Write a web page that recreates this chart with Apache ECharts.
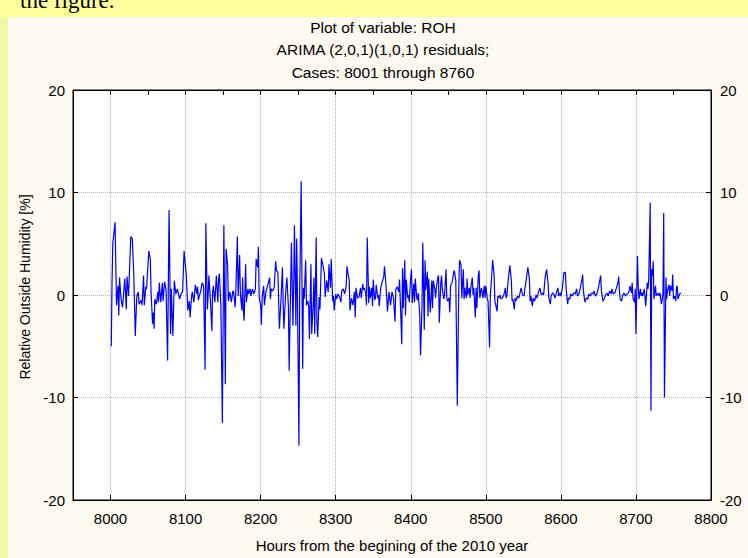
<!DOCTYPE html>
<html>
<head>
<meta charset="utf-8">
<script src="https://cdn.jsdelivr.net/npm/echarts@6/dist/echarts.min.js"></script>
<style>html,body{margin:0;padding:0;background:#FFFF9C;}#chart{width:748px;height:558px;}</style>
</head>
<body>
<div id="chart"></div>
<script>
const titleLines = ['Plot of variable: ROH', 'ARIMA (2,0,1)(1,0,1) residuals;', 'Cases: 8001 through 8760'];
const xAxisName = 'Hours from the begining of the 2010 year';
const yAxisName = 'Relative Outside Humidity [%]';
const xTickValues = [8000, 8100, 8200, 8300, 8400, 8500, 8600, 8700, 8800];

const hours = [
8001,8002,8003,8006,8008,8010,8011,8012,8014,8016,8019,8021,8022,8024,8027,8029,8031,8033,8035,8037,
8038,8041,8042,8044,8045,8047,8048,8051,8053,8054,8056,8057,8058,8059,8061,8063,8064,8065,8067,8069,
8070,8072,8074,8076,8078,8080,8081,8083,8085,8087,8089,8092,8094,8096,
8098,8101,8103,8105,8106,8108,8109,8111,8113,8115,8116,8117,8119,8120,8122,8124,8126,8127,8129,8130,
8131,8133,8135,8136,8137,8139,8140,8141,8143,8144,8145,8147,8149,8151,8153,8154,8156,8157,8159,8161,
8163,8164,8166,8167,8169,8170,8172,8173,8175,8176,8177,8178,8180,8181,8183,8184,8186,8187,8189,8191,
8193,8194,8196,8197,8198,8200,8201,8202,8204,8205,8207,
8210,8212,8213,8214,8216,8218,8220,8221,8223,8225,8227,8229,8230,8231,8233,8234,8235,8237,8238,8240,
8241,8243,8244,8245,8247,8248,8249,8251,8252,8254,8256,8257,8258,8260,8261,8263,8264,8265,8267,8268,
8270,8271,8272,8274,8275,8276,8278,8279,8281,8283,8285,8286,8288,8290,8291,8293,8294,8296,8297,8298,
8300,8301,8303,8305,8307,8308,8310,8312,8314,
8315,8317,8318,8319,8321,8323,8325,8326,8327,8329,8331,8333,8334,8336,8337,8338,8340,8341,8342,8344,
8345,8346,8348,8349,8350,8352,8353,8354,8356,8357,8358,8360,8362,8364,8365,8367,8369,8371,8372,8373,
8375,8377,8379,8380,8382,8384,8385,8386,8388,8389,8390,8392,8393,8394,8396,8397,8398,8400,8401,8402,
8404,8405,8406,8408,8409,8410,8412,8413,8415,8416,8418,8419,8420,8422,8423,
8424,8425,8426,8428,8429,8430,8432,8433,8434,8436,8437,8438,8440,8441,8442,8444,8445,8447,8448,8449,
8451,8452,8453,8455,8456,8458,8460,8462,8464,8465,8467,8468,8470,8471,8472,8474,8475,8476,8478,8479,
8480,8482,8483,8484,8486,8487,8488,8490,8491,8492,8494,8495,8496,8498,8499,8500,8502,8503,8505,8506,
8508,8509,8511,8512,8513,8515,8516,8517,8519,8520,8522,8524,8526,8527,8528,8530,8531,8532,8534,8535,
8536,8538,8539,8540,8542,8544,8545,8547,8549,8551,8552,8554,8556,8558,8559,8560,8562,8563,8565,8567,
8568,8570,8572,8574,8576,8577,8579,8581,8583,8584,8586,8587,8589,8591,8592,8594,8596,
8597,8599,8600,8602,8604,8606,8607,8609,8610,8612,8613,8615,8617,8619,8621,8622,8624,8626,8628,8629,
8630,8632,8634,8636,8637,8639,8641,8643,8644,8646,8648,8650,8652,8653,8654,8656,8658,8659,8661,8663,
8665,8667,8668,8670,8672,8674,8676,8677,8678,8679,8681,8682,8684,8686,8688,8689,8691,8692,8694,8695,
8696,8698,8699,8700,8702,8703,8704,8706,8707,8708,8709,8711,8712,8713,8715,8716,8717,8719,8720,8721,
8722,8723,8724,8726,8727,8729,8731,8732,8734,8736,8737,8738,8740,8741,8742,8744,8745,8746,8748,8749,
8750,8752,8753,8754,8755,8756,8758,8760
];

const residuals = [
-5.0,1.2,5.0,7.1,-1.0,0.9,-2.0,1.7,-0.4,-1.2,1.6,-1.4,1.8,-0.1,5.7,5.5,1.9,-4.0,-0.1,0.3,
-0.9,-0.5,-1.0,1.9,-1.0,0.8,0.6,4.3,3.5,0.3,-2.8,-1.7,-3.3,-0.4,-0.9,0.3,-0.7,1.2,-0.7,1.2,
-0.6,1.3,0.5,-6.4,8.3,-3.8,0.6,-4.0,1.4,0.1,0.6,-0.4,0.1,0.3,
4.3,1.9,-1.5,-0.6,-2.2,-0.1,0.3,-0.7,1.0,0.1,0.8,-0.5,0.1,0.3,1.2,0.9,-7.3,7.0,-1.4,-0.1,
1.9,-0.4,-3.5,0.3,0.9,-0.7,0.6,1.9,-0.7,1.6,2.1,-1.0,-12.5,6.8,-8.7,4.5,2.9,-0.6,0.3,-0.7,
0.4,0.3,-1.2,0.6,5.7,-0.1,3.9,0.1,-1.5,1.7,-1.5,-2.5,3.0,-0.7,0.6,0.1,0.6,-0.1,0.6,0.1,
0.6,3.5,2.7,4.7,-0.2,-1.0,-2.9,-0.2,0.9,-1.0,0.3,
1.1,1.7,-0.4,0.6,0.4,0.7,3.3,2.4,2.2,-3.3,-0.6,2.7,-1.0,-3.3,-0.2,0.9,1.7,-1.2,-7.4,0.9,
5.1,-3.0,0.9,6.8,-3.0,5.5,0.4,-14.7,0.1,11.1,-7.2,0.7,-0.4,3.4,-1.0,-0.6,-1.1,-4.3,3.0,-3.8,
-0.9,1.7,-3.8,5.6,-2.7,-4.1,-0.2,-1.4,3.6,2.9,2.0,-0.2,1.4,0.3,3.0,0.7,3.5,-0.6,-0.1,-1.5,
0.1,-0.4,0.1,-0.2,-0.7,0.4,0.6,0.1,0.9,
2.8,1.8,1.5,-1.5,-0.3,-1.0,0.3,-2.2,0.7,-0.3,-0.2,0.7,-0.3,1.1,0.5,0.7,0.2,-1.0,5.6,-0.8,
0.8,-0.3,0.7,-1.1,1.5,-0.5,-0.3,1.0,-0.3,0.0,-1.1,0.7,1.3,1.8,2.8,1.0,-1.6,0.3,-0.3,-1.0,
0.3,-0.3,-2.6,0.5,0.8,0.3,1.5,-0.5,-4.8,2.6,-1.3,3.4,-2.0,1.5,-0.3,0.0,-0.7,1.8,2.5,-0.8,
1.1,-0.7,1.6,-0.3,-0.5,0.2,-2.0,-5.9,-1.0,5.1,-3.4,3.4,0.5,2.3,-2.1,
1.6,-0.3,-1.7,1.4,-1.3,1.4,0.6,-0.3,0.6,1.7,1.9,-2.7,1.2,1.9,0.6,-0.4,0.0,2.5,-0.4,-0.6,
-0.3,-1.7,0.9,1.2,1.7,2.4,1.4,-10.8,0.7,3.4,2.9,-0.3,2.5,-0.4,0.7,-0.3,1.6,0.0,0.7,-0.3,
0.7,1.7,0.0,0.7,-2.2,0.7,-1.3,1.9,2.4,-0.3,0.7,0.4,-0.3,0.9,-0.3,0.9,-0.4,-0.6,-5.1,0.0,
2.0,3.4,2.0,-0.6,-0.9,-1.6,-0.1,-0.3,0.0,-0.4,-0.3,0.0,0.7,-0.3,-0.1,1.6,2.2,2.9,1.4,-0.6,
-0.4,-1.4,-0.3,-0.6,-0.1,-0.3,0.0,0.7,0.0,-0.1,0.6,1.6,2.7,1.6,-0.6,-0.1,-1.1,-0.3,-0.6,0.0,
-0.3,0.2,0.7,0.0,0.2,0.0,1.7,2.5,1.1,-0.3,-0.9,-0.1,0.2,0.0,-0.3,0.2,0.7,
-0.1,0.2,-0.1,0.7,2.2,2.2,0.6,-0.9,-0.3,-0.4,0.1,-0.1,0.2,0.1,0.6,-0.1,0.1,0.7,1.5,2.0,
0.4,-0.7,-0.3,-0.4,0.1,-0.1,0.2,0.1,0.4,-0.1,0.1,0.7,1.5,1.9,0.4,-0.6,-0.3,-0.1,0.2,-0.1,
0.4,0.1,0.6,0.1,0.2,0.7,1.2,1.8,0.4,-0.4,-0.6,-0.1,0.2,-0.1,0.1,0.1,0.4,0.9,0.2,1.2,
-0.3,-0.7,0.6,-3.8,3.8,0.9,-0.4,0.6,-0.1,0.2,-0.1,0.6,-0.1,-1.1,1.2,0.6,1.4,9.0,-11.3,2.5,
1.9,3.3,-0.4,0.9,-0.1,0.2,-0.1,0.2,-0.9,0.1,8.0,-10.0,1.7,-0.4,0.4,1.0,-0.1,0.9,0.4,2.0,
-0.4,-0.1,-0.6,0.7,0.9,-0.4,0.1,0.2
];

const seriesData = hours.map((h, i) => [h, residuals[i]]);
const FONT = '"Liberation Sans", Arial, sans-serif';

const chart = echarts.init(document.getElementById('chart'), null, {renderer: 'svg', width: 748, height: 558});
const titleBaselines = [33.3, 55.3, 77.5];
const titleFs = 15.5;
const plainNum = v => String(v);

chart.setOption({
  animation: false,
  backgroundColor: '#FFFF9C',
  graphic: [
    {type: 'rect', z: -10, silent: true, shape: {x: 0, y: 17, width: 8, height: 541}, style: {fill: '#EFF8A2'}},
    {type: 'rect', z: -10, silent: true, shape: {x: 8, y: 17, width: 740, height: 541}, style: {fill: '#FFFAF0'}},
    {type: 'text', z: 5, silent: true, x: 20, y: 0, style: {text: 'the figure.', font: '23px "Liberation Serif", serif', fill: '#000', align: 'left', verticalAlign: 'middle'}}
  ].concat(titleLines.map((t, i) => ({
    type: 'text', z: 5, silent: true, x: 383, y: titleBaselines[i] - 0.35 * titleFs,
    style: {text: t, font: titleFs + 'px ' + FONT, fill: '#000', align: 'center', verticalAlign: 'middle'}
  }))),
  grid: {left: 73, right: 37, top: 90, bottom: 57, show: true, backgroundColor: '#ffffff', borderColor: '#000', borderWidth: 1},
  xAxis: [
    {
      type: 'value', position: 'bottom', min: 7950, max: 8800,
      name: xAxisName, nameLocation: 'middle', nameGap: 38,
      nameTextStyle: {fontFamily: FONT, fontSize: 15, color: '#000'},
      axisLine: {show: true, onZero: false, lineStyle: {color: '#000', width: 1}},
      axisTick: {show: true, inside: true, length: 5, customValues: xTickValues, lineStyle: {color: '#000'}},
      axisLabel: {show: true, customValues: xTickValues, formatter: plainNum, fontFamily: FONT, fontSize: 15, color: '#000', margin: 11},
      splitLine: {show: true, showMaxLine: false, lineStyle: {type: 'dotted', color: '#b4b4b4', width: 1}}
    },
    {
      type: 'value', position: 'top', min: 7950, max: 8800, interval: 50,
      axisLine: {show: true, onZero: false, lineStyle: {color: '#000', width: 1}},
      axisTick: {show: true, inside: true, length: 5, lineStyle: {color: '#000'}},
      axisLabel: {show: false},
      splitLine: {show: false}
    }
  ],
  yAxis: [
    {
      type: 'value', position: 'left', min: -20, max: 20, interval: 10,
      name: yAxisName, nameLocation: 'middle', nameGap: 40, nameRotate: 90,
      nameTextStyle: {fontFamily: FONT, fontSize: 14, color: '#000', padding: [0, 0, 0, 16]},
      axisLine: {show: true, onZero: false, lineStyle: {color: '#000', width: 1}},
      axisTick: {show: true, inside: true, length: 5, lineStyle: {color: '#000'}},
      axisLabel: {formatter: plainNum, fontFamily: FONT, fontSize: 15, color: '#000', margin: 8},
      splitLine: {show: true, showMinLine: false, showMaxLine: false, lineStyle: {type: 'dotted', color: '#b4b4b4', width: 1}}
    },
    {
      type: 'value', position: 'right', min: -20, max: 20, interval: 10,
      axisLine: {show: true, onZero: false, lineStyle: {color: '#000', width: 1}},
      axisTick: {show: true, inside: true, length: 5, lineStyle: {color: '#000'}},
      axisLabel: {formatter: plainNum, fontFamily: FONT, fontSize: 15, color: '#000', margin: 9},
      splitLine: {show: false}
    }
  ],
  series: [{
    type: 'line', xAxisIndex: 0, yAxisIndex: 0, data: seriesData,
    showSymbol: false, symbol: 'none', z: 3,
    lineStyle: {color: '#0000FF', width: 1.2}
  }]
});
</script>
</body>
</html>
